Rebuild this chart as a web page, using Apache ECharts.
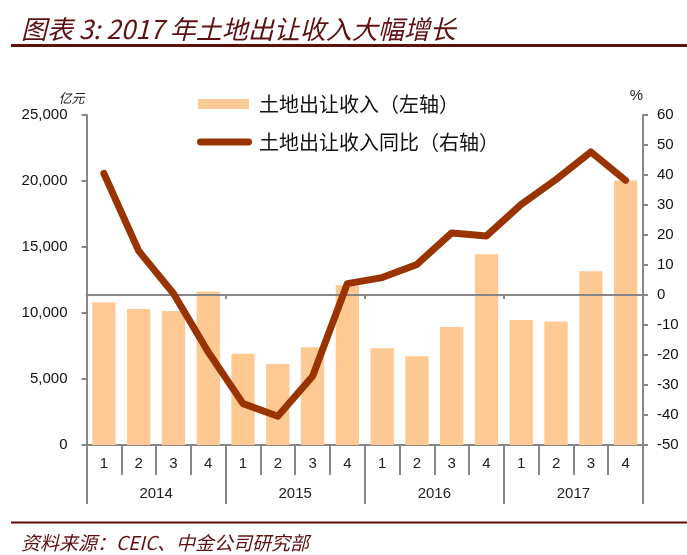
<!DOCTYPE html>
<html><head><meta charset="utf-8">
<script src="https://cdn.jsdelivr.net/npm/echarts@6/dist/echarts.min.js"></script>
<style>html,body{margin:0;padding:0;background:#fff}#c{width:687px;height:555px}</style>
</head><body><div id="c"></div>
<script>
const quarters = ['1','2','3','4','1','2','3','4','1','2','3','4','1','2','3','4'];
const years = ['2014','2015','2016','2017'];
const landRevenue = [10800,10300,10150,11620,6920,6140,7400,12100,7330,6720,8940,14450,9470,9350,13160,20030];
const yoyGrowth = [40.5,14.7,0.5,-19,-36.2,-40.4,-27.1,3.8,5.8,10.2,20.7,19.7,30.2,38.5,47.7,38.2];
const seriesNames = ['土地出让收入（左轴）','土地出让收入同比（右轴）'];

const chart = echarts.init(document.getElementById('c'));
const gray = '#878787';
const dark = '#5e0f0f';
const cjk = 'Noto Sans CJK SC';
const latin = 'Liberation Sans, Arial, sans-serif';
const pillIcon = 'path://M0,0M56,11M3.5,2L52.5,2A3.5,3.5 0 0 1 52.5,9L3.5,9A3.5,3.5 0 0 1 3.5,2Z';
chart.setOption({
  animation: false,
  title: [
    {text:'图表 3: 2017 年土地出让收入大幅增长', left:16, top:11,
     textStyle:{fontFamily:cjk, fontStyle:'italic', fontWeight:'normal', fontSize:26, color:dark}},
    {text:'资料来源：CEIC、中金公司研究部', left:16, top:528,
     textStyle:{fontFamily:cjk, fontStyle:'italic', fontWeight:'normal', fontSize:19, color:dark}}
  ],
  graphic: [
    {type:'line', shape:{x1:11,y1:45.5,x2:687,y2:45.5}, style:{stroke:dark, lineWidth:3}},
    {type:'line', shape:{x1:11,y1:522.5,x2:687,y2:522.5}, style:{stroke:dark, lineWidth:2}}
  ],
  legend: {
    orient:'vertical', left:192, top:89, itemWidth:55, itemHeight:11, itemGap:18,
    textStyle:{fontFamily:cjk, fontSize:20, color:'#111', padding:[0,0,0,2]},
    data:[{name:seriesNames[0], icon:'path://M0,0M56,11M1,0.5L53,0.5L53,10.5L1,10.5Z'},
          {name:seriesNames[1], icon:pillIcon}]
  },
  grid: {left:86.5, right:44, top:115, bottom:110},
  xAxis: [
    {type:'category', data:quarters, position:'bottom',
     axisLine:{onZero:false, lineStyle:{color:gray, width:2}},
     axisTick:{show:true, interval:0, length:30, lineStyle:{color:gray, width:2}},
     axisLabel:{interval:0, margin:11, fontSize:15, color:'#222', fontFamily:latin}},
    {type:'category', data:years, position:'bottom', offset:30,
     axisLine:{show:false, onZero:false},
     axisTick:{show:true, interval:0, length:29, lineStyle:{color:gray, width:2}},
     axisLabel:{interval:0, margin:11, fontSize:15, color:'#222', fontFamily:latin}},
    {type:'category', data:quarters, position:'bottom', z:3,
     axisLine:{onZero:true, onZeroAxisIndex:1, lineStyle:{color:gray, width:2}},
     axisTick:{show:true, interval:3, length:4, lineStyle:{color:gray, width:2}},
     axisLabel:{show:false}}
  ],
  yAxis: [
    {type:'value', min:0, max:25000, interval:5000, position:'left',
     name:'亿元', nameLocation:'end', nameGap:10,
     nameTextStyle:{align:'right', fontSize:13, color:'#222', fontFamily:cjk, fontStyle:'italic', padding:[0,2,0,0]},
     axisLine:{show:true, lineStyle:{color:gray, width:2}},
     axisTick:{show:true, length:5, lineStyle:{color:gray, width:2}},
     axisLabel:{margin:19, fontSize:15, color:'#111', fontFamily:latin,
                formatter:v=>v.toLocaleString('en-US')},
     splitLine:{show:false}},
    {type:'value', min:-50, max:60, interval:10, position:'right',
     name:'%', nameLocation:'end', nameGap:12,
     nameTextStyle:{align:'right', fontSize:15, color:'#222', fontFamily:latin},
     axisLine:{show:true, lineStyle:{color:gray, width:2}},
     axisTick:{show:true, length:5, lineStyle:{color:gray, width:2}},
     axisLabel:{margin:14, fontSize:15, color:'#111', fontFamily:latin},
     splitLine:{show:false}}
  ],
  series: [
    {name:seriesNames[0], type:'bar', data:landRevenue, xAxisIndex:0, yAxisIndex:0,
     barCategoryGap:'33%', itemStyle:{color:'#FFC994'}, z:2},
    {name:seriesNames[1], type:'line', data:yoyGrowth, xAxisIndex:0, yAxisIndex:1,
     symbol:'none', z:5, itemStyle:{color:'#993300'},
     lineStyle:{color:'#993300', width:7, cap:'round', join:'round'}}
  ]
});
</script></body></html>
